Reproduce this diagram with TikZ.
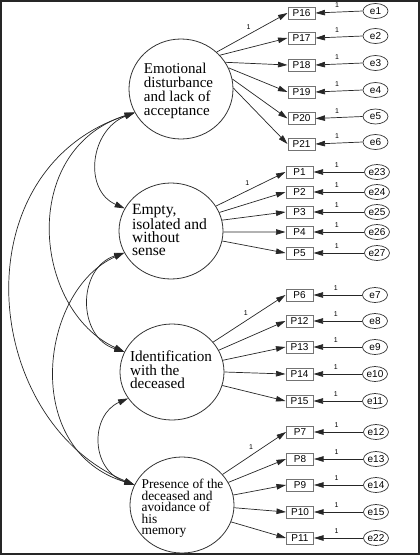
\documentclass[tikz,border=0pt]{standalone}
\usepackage{fontspec}
\setmainfont{Liberation Serif}
\newfontfamily\arialf{Liberation Sans}
\usetikzlibrary{shapes.geometric,arrows.meta}
\begin{document}
\begin{tikzpicture}[x=1pt,y=-1pt,
  lat/.style={draw=black!80, line width=0.8pt, ellipse, minimum width=104pt, minimum height=96pt, inner sep=0pt},
  ftxt/.style={align=left, inner sep=0pt},
  obs/.style={draw=black!55, line width=1pt, rectangle, minimum width=27pt, minimum height=12pt, inner sep=0pt, font=\arialf\fontsize{10}{10}\selectfont},
  err/.style={draw=black!80, line width=0.7pt, ellipse, minimum width=25pt, minimum height=15pt, inner sep=0pt, font=\arialf\fontsize{10}{10}\selectfont},
  arr/.style={draw=black!85, line width=0.7pt, -{Triangle[length=9.5pt,width=5.5pt]}},
  cov/.style={draw=black!85, line width=0.7pt, {Triangle[length=10pt,width=6pt]}-{Triangle[length=10pt,width=6pt]}},
  one/.style={font=\arialf\fontsize{7}{7}\selectfont, inner sep=0pt},
]
\useasboundingbox (0,0) rectangle (420,555);
\draw[line width=2pt, black!85] (1,1) rectangle (418.5,554);

% latent variables
\node[lat, minimum height=100pt] (F1) at (181,89) {};
\node[lat] (F2) at (171,231) {};
\node[lat] (F3) at (172,372) {};
\node[lat] (F4) at (182,505) {};
\node[ftxt, font=\fontsize{15}{14.2}\selectfont] (F1t) at (178.5,91) {Emotional\\disturbance\\and lack of\\acceptance};
\node[ftxt, font=\fontsize{15.6}{13.2}\selectfont] (F2t) at (169.5,230) {Empty,\\isolated and\\without\\sense};
\node[ftxt, font=\fontsize{15.2}{13.6}\selectfont] (F3t) at (171,370) {Identification\\with the\\deceased};
\node[ftxt, font=\fontsize{13.4}{11.4}\selectfont] (F4t) at (182.5,508.4) {Presence of the\\deceased and\\avoidance of\\his\\memory};

% observed variables and errors
\foreach \p/\e/\y/\ey in {P16/e1/13/11, P17/e2/38/36, P18/e3/65/63, P19/e4/92/90, P20/e5/118.5/116.5, P21/e6/144/142}{
  \node[obs] (\p) at (301.5,\y) {\p};
  \node[err] (\e) at (375.5,\ey) {\e};
}
\foreach \p/\e/\y in {P1/e23/172, P2/e24/192, P3/e25/212, P4/e26/232, P5/e27/253}{
  \node[obs] (\p) at (299.5,\y) {\p};
  \node[err] (\e) at (377,\y) {\e};
}
\foreach \p/\e/\y in {P6/e7/295, P12/e8/321, P13/e9/347, P14/e10/374, P15/e11/401}{
  \node[obs] (\p) at (299.5,\y) {\p};
  \node[err] (\e) at (375,\y) {\e};
}
\foreach \p/\e/\y in {P7/e12/432, P8/e13/459, P9/e14/485, P10/e15/512, P11/e22/538}{
  \node[obs] (\p) at (300,\y) {\p};
  \node[err] (\e) at (376,\y) {\e};
}

% error arrows
\foreach \e/\p in {e1/P16,e2/P17,e3/P18,e4/P19,e5/P20,e6/P21,e23/P1,e24/P2,e25/P3,e26/P4,e27/P5,e7/P6,e8/P12,e9/P13,e10/P14,e11/P15,e12/P7,e13/P8,e14/P9,e15/P10,e22/P11}{
  \draw[arr] (\e.west) -- node[one, pos=.54, above=4pt] {1} (\p.east);
}

% loadings
\draw[arr] (F1.46) -- node[one, pos=.45, above=5pt] {1} (P16.west);
\foreach \p/\a in {P17/41, P18/31, P19/24, P20/11, P21/1}{ \draw[arr] (F1.\a) -- (\p.west); }
\draw[arr] (F2.29) -- node[one, pos=.45, above=5pt] {1} (P1.west);
\foreach \p/\a in {P2/21, P3/12, P4/-1, P5/-11}{ \draw[arr] (F2.\a) -- (\p.west); }
\draw[arr] (F3.36) -- node[one, pos=.45, above=5pt] {1} (P6.west);
\foreach \p/\a in {P12/25, P13/13.5, P14/0, P15/-15}{ \draw[arr] (F3.\a) -- (\p.west); }
\draw[arr] (F4.37) -- node[one, pos=.45, above=5pt] {1} (P7.west);
\foreach \p/\a in {P8/26, P9/11.5, P10/-3, P11/-19}{ \draw[arr] (F4.\a) -- (\p.west); }

% covariances
\draw[cov] (F1.207) .. controls (90,130) and (83,190) .. (F2.154);
\draw[cov] (F1.207) .. controls (18,150) and (33,310) .. (F3.157);
\draw[cov] (F1.207) .. controls (-40,170) and (-20,420) .. (F4.157);
\draw[cov] (F2.205) .. controls (77,268) and (77,337) .. (F3.157);
\draw[cov] (F2.205) .. controls (40,290) and (20,450) .. (F4.157);
\draw[cov] (F3.211) .. controls (90,415) and (90,470) .. (F4.157);
\end{tikzpicture}
\end{document}
